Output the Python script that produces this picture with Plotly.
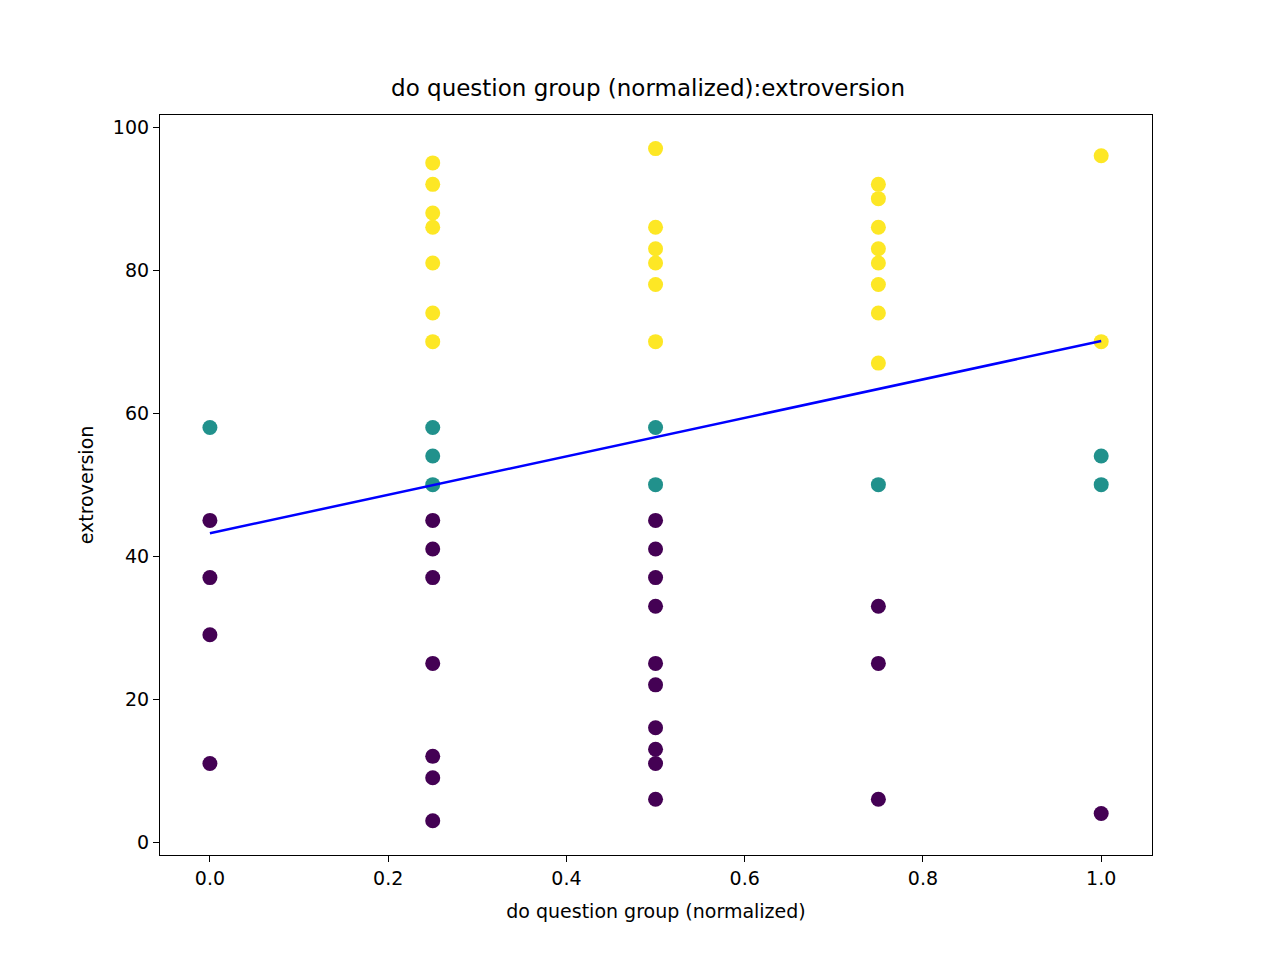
import plotly.graph_objects as go

# values
x_vals = [0.0]*5 + [0.25]*17 + [0.5]*18 + [0.75]*12 + [1.0]*5
y_vals = [58, 45, 37, 29, 11,
          95, 92, 88, 86, 81, 74, 70, 58, 54, 50, 45, 41, 37, 25, 12, 9, 3,
          97, 86, 83, 81, 78, 70, 58, 50, 45, 41, 37, 33, 25, 22, 16, 13, 11, 6,
          92, 90, 86, 83, 81, 78, 74, 67, 50, 33, 25, 6,
          96, 70, 54, 50, 4]
groups = [1, 0, 0, 0, 0,
          2, 2, 2, 2, 2, 2, 2, 1, 1, 1, 0, 0, 0, 0, 0, 0, 0,
          2, 2, 2, 2, 2, 2, 1, 1, 0, 0, 0, 0, 0, 0, 0, 0, 0, 0,
          2, 2, 2, 2, 2, 2, 2, 2, 1, 0, 0, 0,
          2, 2, 1, 1, 0]
intercept, slope = 43.2, 26.9
group_colors = ["#440154", "#21918c", "#fde725"]

fit_x = sorted(set(x_vals))
fit_y = [intercept + slope * v for v in fit_x]

fig = go.Figure()
fig.add_trace(go.Scatter(x=x_vals, y=y_vals, mode="markers",
                         marker=dict(size=15, color=[group_colors[g] for g in groups])))
fig.add_trace(go.Scatter(x=fit_x, y=fit_y, mode="lines", line=dict(color="blue", width=2.5)))

axis = dict(showgrid=False, zeroline=False, showline=True, linecolor="black", linewidth=1.2,
            mirror=True, ticks="outside", ticklen=6, tickcolor="black",
            tickfont=dict(size=19, color="black"))
fig.update_layout(
    width=1280, height=960, showlegend=False,
    plot_bgcolor="white", paper_bgcolor="white",
    font=dict(family="DejaVu Sans", color="black"),
    margin=dict(l=152, r=136, t=107, b=113),
    title=dict(text="do question group (normalized):extroversion", x=0.5, xanchor="center",
               y=1 - 80/960, yanchor="middle", font=dict(size=23)),
    xaxis=dict(axis, range=[-0.056, 1.057], tickvals=[0, 0.2, 0.4, 0.6, 0.8, 1.0],
               ticktext=["0.0", "0.2", "0.4", "0.6", "0.8", "1.0"],
               title=dict(text="do question group (normalized)", font=dict(size=19), standoff=16)),
    yaxis=dict(axis, range=[-1.8, 101.7], tickvals=[0, 20, 40, 60, 80, 100],
               title=dict(text="extroversion", font=dict(size=19), standoff=14)),
)
fig.write_html("out.html")
